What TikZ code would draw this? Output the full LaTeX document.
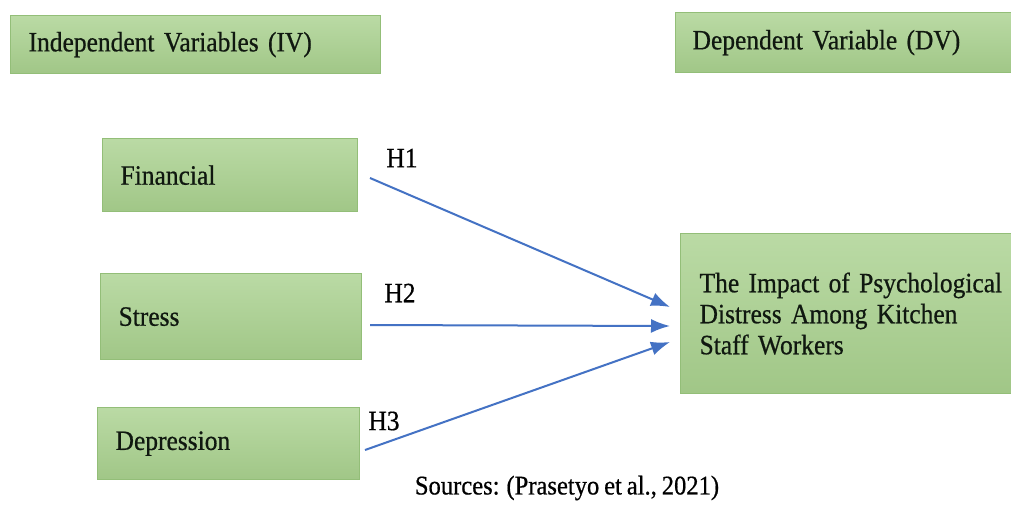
\documentclass[tikz,border=0pt]{standalone}
\usepackage{fontspec}
\setmainfont{Liberation Serif}[FakeStretch=0.91,FakeBold=0.6,WordSpace=0.8]
\usetikzlibrary{arrows.meta}
\definecolor{boxfill}{HTML}{A9D18E}
\definecolor{boxline}{HTML}{93BE78}
\definecolor{arrowblue}{HTML}{4472C4}
\definecolor{txt}{HTML}{101810}
\tikzset{
  varbox/.style={draw=boxline, line width=1.2pt, top color=boxfill!80!white, bottom color=boxfill!95!black, anchor=north west, inner ysep=0pt, align=left, text=txt, font=\fontsize{28}{31}\selectfont},
  hyp/.style={font=\fontsize{28}{31}\selectfont, text=black, inner sep=0pt},
  link/.style={draw=arrowblue, line width=2pt, -{Latex[length=19pt,width=14pt]}}
}
\begin{document}
\begin{tikzpicture}[x=1pt,y=-1pt]
\clip (0,0) rectangle (1011,504);
\useasboundingbox (0,0) rectangle (1011,504);
\fill[white] (0,0) rectangle (1011,504);
% header boxes
\node[varbox, minimum width=370pt, minimum height=58pt, inner xsep=18pt, text width=334pt] (iv) at (10,15) {Independent Variables (IV)};
\node[varbox, minimum width=345pt, minimum height=60pt, inner xsep=17pt, text width=311pt] (dv) at (675,12) {Dependent Variable (DV)};
% independent variables
\node[varbox, minimum width=255pt, minimum height=73pt, inner xsep=18pt, text width=219pt] (fin) at (102,138) {Financial};
\node[varbox, minimum width=261pt, minimum height=86pt, inner xsep=18pt, text width=225pt] (str) at (100,273) {Stress};
\node[varbox, minimum width=262pt, minimum height=72pt, inner xsep=18pt, text width=226pt] (dep) at (97,407) {Depression};
% dependent variable
\node[varbox, minimum width=360pt, minimum height=160pt, inner xsep=19pt, text width=322pt] (imp) at (680,233) {The Impact of Psychological\\Distress Among Kitchen\\Staff Workers};
% connector end points
\coordinate (s1) at (370,178);
\coordinate (s2) at (370,325);
\coordinate (s3) at (365,450);
\coordinate (t1) at (670,307);
\coordinate (t2) at (670,326);
\coordinate (t3) at (670,342);
\draw[link] (s1) -- (t1);
\draw[link] (s2) -- (t2);
\draw[link] (s3) -- (t3);
% labels
\node[hyp] (h1) at (402,158) {H1};
\node[hyp] (h2) at (400,293) {H2};
\node[hyp] (h3) at (384,421) {H3};
\node[font=\fontsize{27}{30}\selectfont, inner sep=0pt] (src) at (567,488) {Sources: (Prasetyo et al., 2021)};
\end{tikzpicture}
\end{document}
